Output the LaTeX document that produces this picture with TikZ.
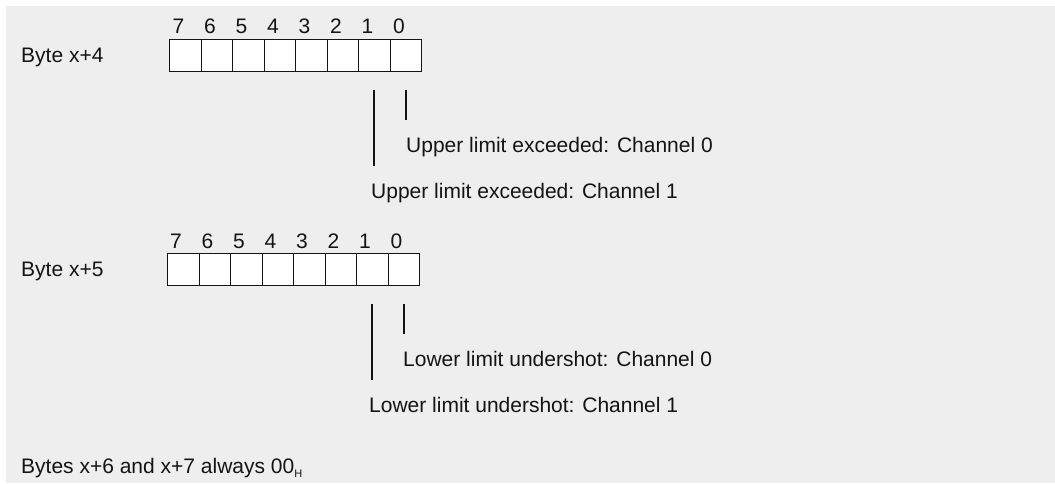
\documentclass[tikz,border=0pt]{standalone}
\usepackage{fontspec}
\setmainfont{Liberation Sans}
\definecolor{bg}{HTML}{EEEEEE}
\definecolor{ink}{HTML}{141414}
\begin{document}
\begin{tikzpicture}[x=1pt,y=-1pt,
  lbl/.style={anchor=base west,inner sep=0pt,text=ink,font=\fontsize{21}{25}\selectfont},
  bitnum/.style={anchor=base,inner sep=0pt,text=ink,font=\fontsize{21}{25}\selectfont},
  cell/.style={draw=ink,fill=white,line width=1.3pt,minimum width=31.5pt,minimum height=32pt,inner sep=0pt,anchor=north west},
  lead/.style={draw=ink,line width=1.2pt}]
\useasboundingbox (0,0) rectangle (1055,483);
\fill[white] (0,0) rectangle (1055,483);
\fill[bg] (6,6) rectangle (1055,483);
% ---- Byte x+4
\node[lbl] (b4) at (21,62) {Byte x+4};
\foreach \i in {0,...,7}{
  \node[cell] (ra\i) at ({169+(7-\i)*31.5},39) {};
  \node[bitnum] (na\i) at ({169+(7-\i)*31.5+9.5},33) {\i};
}
\coordinate (a1t) at (374,90); \coordinate (a1b) at (374,166);
\coordinate (a0t) at (406,90); \coordinate (a0b) at (406,120);
\draw[lead] (a1t) -- (a1b);
\draw[lead] (a0t) -- (a0b);
\node[lbl] (ua0) at (406,152) {Upper limit exceeded: Channel 0};
\node[lbl] (ua1) at (371,198) {Upper limit exceeded: Channel 1};
% ---- Byte x+5
\node[lbl] (b5) at (21,276) {Byte x+5};
\foreach \i in {0,...,7}{
  \node[cell] (rb\i) at ({167+(7-\i)*31.5},253) {};
  \node[bitnum] (nb\i) at ({167+(7-\i)*31.5+9},248) {\i};
}
\coordinate (b1t) at (372,304); \coordinate (b1b) at (372,380);
\coordinate (b0t) at (404,304); \coordinate (b0b) at (404,334);
\draw[lead] (b1t) -- (b1b);
\draw[lead] (b0t) -- (b0b);
\node[lbl] (lb0) at (403,366) {Lower limit undershot: Channel 0};
\node[lbl] (lb1) at (369,412) {Lower limit undershot: Channel 1};
% ---- footer
\node[lbl] (ft) at (21,473) {Bytes x+6 and x+7 always 00\raisebox{-4pt}{\fontsize{11}{11}\selectfont H}};
\end{tikzpicture}
\end{document}
